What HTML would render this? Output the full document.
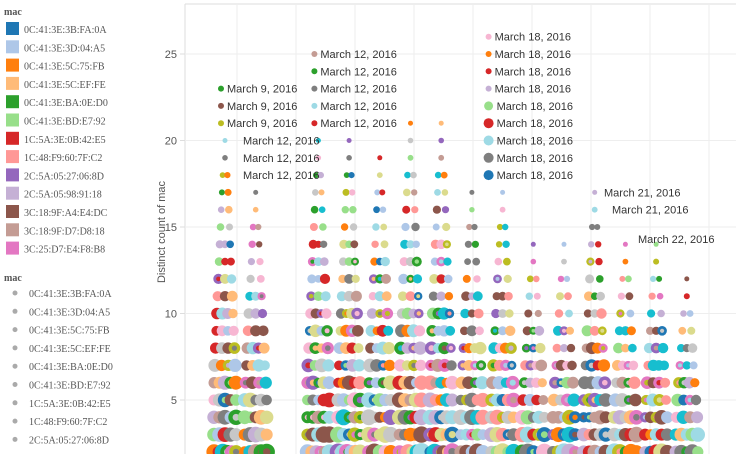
<!DOCTYPE html>
<html><head><meta charset="utf-8"><style>
body{margin:0;background:#fff;width:736px;height:454px;overflow:hidden;font-family:"Liberation Sans",sans-serif}
svg{display:block;overflow:hidden}
.lg{font-family:"Liberation Serif",serif;font-size:10px;fill:#555}
.ax{font-size:11px;fill:#555}
.an{font-size:11px;fill:#333}
</style></head><body>
<svg id="chart" width="736" height="454"></svg>
<script>
const colDates=["Mar 9a","Mar 9b","Mar 12a","Mar 12b","Mar 13","Mar 14","Mar 15","Mar 16","Mar 18","Mar 19","Mar 20","Mar 21","Mar 22a","Mar 22b","Mar 23"];
const colMax=[20,17,20,20,19,21,21,17,17,14,14,17,14,14,12];
const yTicks=[5,10,15,20,25];
const macs=["0C:41:3E:3B:FA:0A","0C:41:3E:3D:04:A5","0C:41:3E:5C:75:FB","0C:41:3E:5C:EF:FE","0C:41:3E:BA:0E:D0","0C:41:3E:BD:E7:92","1C:5A:3E:0B:42:E5","1C:48:F9:60:7F:C2","2C:5A:05:27:06:8D","2C:5A:05:98:91:18","3C:18:9F:A4:E4:DC","3C:18:9F:D7:D8:18","3C:25:D7:E4:F8:B8"];
const palette=["#1f77b4","#aec7e8","#ff7f0e","#ffbb78","#2ca02c","#98df8a","#d62728","#ff9896","#9467bd","#c5b0d5","#8c564b","#c49c94","#e377c2","#f7b6d2","#7f7f7f","#c7c7c7","#bcbd22","#dbdb8d","#17becf","#9edae5"];
const annLabels=[
 {c:0,v:23,t:"March 9, 2016",k:4},{c:0,v:22,t:"March 9, 2016",k:10},{c:0,v:21,t:"March 9, 2016",k:16},
 {c:2,v:25,t:"March 12, 2016",k:11},{c:2,v:24,t:"March 12, 2016",k:4},{c:2,v:23,t:"March 12, 2016",k:14},{c:2,v:22,t:"March 12, 2016",k:19},{c:2,v:21,t:"March 12, 2016",k:6},
 {c:8,v:26,t:"March 18, 2016",k:13},{c:8,v:25,t:"March 18, 2016",k:2},{c:8,v:24,t:"March 18, 2016",k:6},{c:8,v:23,t:"March 18, 2016",k:9},{c:8,v:22,t:"March 18, 2016",k:5},{c:8,v:21,t:"March 18, 2016",k:6},{c:8,v:20,t:"March 18, 2016",k:19},{c:8,v:19,t:"March 18, 2016",k:14},{c:8,v:18,t:"March 18, 2016",k:0}
];
const sideLabels=[{x:243,v:20,t:"March 12, 2016"},{x:243,v:19,t:"March 12, 2016"},{x:243,v:18,t:"March 12, 2016"},{x:604,v:17,t:"March 21, 2016"},{x:612,v:16,t:"March 21, 2016"},{x:638,v:14.3,t:"March 22, 2016"}];

const NS="http://www.w3.org/2000/svg";
const svg=document.getElementById('chart');
function mk(tag,attrs,parent){const e=document.createElementNS(NS,tag);for(const k in attrs)e.setAttribute(k,attrs[k]);(parent||svg).appendChild(e);return e;}
const X0=185,colX0=225,colStep=30.7;
function xCol(i){return colX0+i*colStep+(i>=2?32:0);}
function yVal(v){return 400-17.3*(v-5);}

const grid=mk('g',{});
mk('line',{x1:X0,y1:4,x2:736,y2:4,stroke:'#ddd'},grid);
mk('line',{x1:X0,y1:4,x2:X0,y2:454,stroke:'#ddd'},grid);
for(let k=0;k<9;k++){const x=237+k*59;mk('line',{x1:x,y1:4,x2:x,y2:454,stroke:'#eee'},grid);}
yTicks.forEach(t=>{
 mk('line',{x1:X0,y1:yVal(t),x2:736,y2:yVal(t),stroke:'#eee'},grid);
 mk('line',{x1:X0-5,y1:yVal(t),x2:X0,y2:yVal(t),stroke:'#ddd'},grid);
 const tx=mk('text',{x:177,y:yVal(t)+4,'text-anchor':'end',class:'ax'});tx.textContent=t;
 
 
});
const yt=mk('text',{x:0,y:0,class:'ax',transform:'translate(165,232) rotate(-90)','text-anchor':'middle'});yt.textContent="Distinct count of mac";



function h(a,b,c){let s=(a*73856093)^(b*19349663)^(c*83492791);s=(s^(s>>>13))*1274126177;s=s^(s>>>16);return Math.abs(s);}
const dots=mk('g',{});
colDates.forEach((d,i)=>{
 const cx=xCol(i);
 for(let v=2;v<=colMax[i];v++){
  const frac=Math.max(0,(colMax[i]-v)/colMax[i]);
  const n=Math.max(1,Math.round(1+frac*5));
  const spread=Math.min(11,1+frac*14);
  for(let j=0;j<n;j++){
   const hh=h(i+1,v,j+1);
   const r=2.5+frac*7*((hh%100)/100*0.5+0.5);
   const off=n===1?0:(-spread+2*spread*j/(n-1));
   const c=mk('circle',{cx:(cx+off).toFixed(1),cy:yVal(v).toFixed(1),r:r.toFixed(1),fill:palette[hh%20]},dots);
   
   
   if(hh%4===0&&r>4){const c2=mk('circle',{cx:(cx+off).toFixed(1),cy:yVal(v).toFixed(1),r:(r*0.45).toFixed(1),fill:palette[(hh>>3)%20]},dots);
    
    }
  }
 }
});
annLabels.forEach(a=>{
 const x=xCol(a.c)-(a.c===8?14:4);
 const big=a.c===8&&a.v<=22;
 const c=mk('circle',{cx:x,cy:yVal(a.v),r:big?(a.v<=21?5:4.5):3,fill:palette[a.k]});
 
 
 const t=mk('text',{x:x+(big?8:6),y:yVal(a.v)+4,class:'an'});t.textContent=a.t;
 
 
});
sideLabels.forEach(a=>{
 const t=mk('text',{x:a.x,y:yVal(a.v)+4,class:'an'});t.textContent=a.t;
 
 
});
const lt=mk('text',{x:4,y:15,class:'lg','font-weight':'bold',fill:'#333'});lt.textContent="mac";


macs.forEach((m,i)=>{
 const y=22+i*18.3;
 const r=mk('rect',{x:6,y:y,width:13,height:13,fill:palette[i]});
 
 
 const t=mk('text',{x:24,y:y+11,class:'lg'});t.textContent=m;
 
 
});
const lt2=mk('text',{x:4,y:281,class:'lg','font-weight':'bold',fill:'#333'});lt2.textContent="mac";


macs.slice(0,9).forEach((m,i)=>{
 const y=293+i*18.3;
 const c=mk('circle',{cx:15,cy:y,r:2.5,fill:'#aaa'});
 
 
 const t=mk('text',{x:29,y:y+4,class:'lg'});t.textContent=m;
 
 
});
</script>
</body></html>
